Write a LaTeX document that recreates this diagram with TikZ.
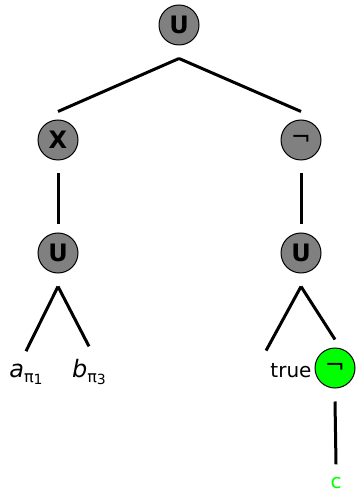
\documentclass[tikz,border=0pt]{standalone}
\usepackage{fontspec}
\setmainfont{DejaVu Sans}
% variable with a pi index
\newcommand{\pivar}[2]{\textit{#1}\raisebox{-2.5pt}{\footnotesize π\raisebox{-1pt}{\scriptsize #2}}}

\begin{document}
\begin{tikzpicture}[x=0.5pt,y=-0.5pt,
    op/.style={circle,draw,line width=0.5pt,fill=gray,minimum size=20pt,
      inner sep=0pt,font=\large\bfseries},
    leaf/.style={anchor=base,inner sep=2pt},
    edge/.style={line width=1.5pt}]
  \useasboundingbox (0,0) rectangle (360,491);
  % operator nodes
  \node[op] (root) at (179,25) {U};
  \node[op] (x)  at (58,140)  {X};
  \node[op] (nl) at (301,140) {\normalfont¬};
  \node[op] (ul) at (58,253)  {U};
  \node[op] (ur) at (301,253) {U};
  \node[op,fill=green] (g) at (335,368) {\normalfont¬};
  % leaves
  \node[leaf,font=\large] (a) at (26,377) {\pivar{a}{1}};
  \node[leaf,font=\large] (b) at (89,377) {\pivar{b}{3}};
  \node[leaf] (t) at (291,377) {true};
  \node[leaf,text=green] (c) at (336,488) {c};
  % edges, with a gap at both ends
  \foreach \p/\q in {root/x,root/nl,x/ul,nl/ur,ul/a,ul/b,ur/g,g/c}
    \draw[edge] ([yshift=-6.5pt]\p.south) -- ([yshift=4pt]\q.north);
  \draw[edge] ([yshift=-6.5pt]ur.south) -- ([yshift=4pt]t.north west);
\end{tikzpicture}
\end{document}
